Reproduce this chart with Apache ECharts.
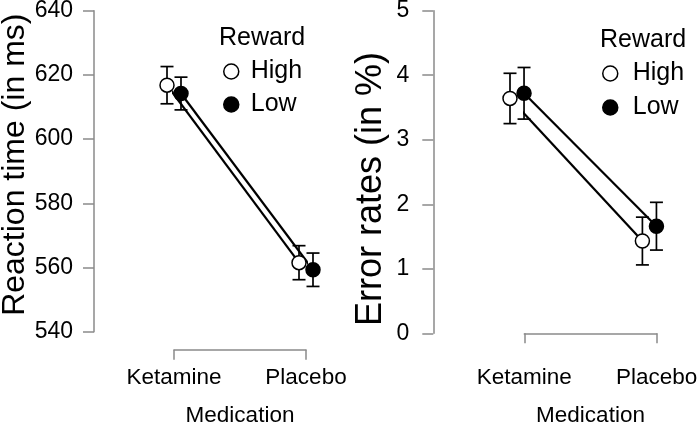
<!DOCTYPE html>
<html>
<head>
<meta charset="utf-8">
<script src="https://cdn.jsdelivr.net/npm/echarts@6/dist/echarts.min.js"></script>
<style>
html, body { margin: 0; padding: 0; background: #fff; }
#chart { width: 699px; height: 428px; }
</style>
</head>
<body>
<div id="chart"></div>
<script>
const medication = ['Ketamine', 'Placebo']
const rewardLevels = ['High', 'Low']

// reaction time in ms: means and error bar half-widths
const rtHigh = [616.8, 561.5]
const rtHighErr = [5.8, 5.3]
const rtLow = [614.2, 559.3]
const rtLowErr = [5.1, 5.2]

// error rates in %
const erHigh = [3.64, 1.43]
const erHighErr = [0.39, 0.37]
const erLow = [3.72, 1.66]
const erLowErr = [0.40, 0.37]

const rtRange = [540, 640, 20]
const erRange = [0, 5, 1]

const font = 'Liberation Sans, Arial, sans-serif'
const axisGray = '#8a8a8a'

function points (vals, shift) {
  return vals.map((v, i) => [i + 1 + shift, v])
}

function errorSeries (vals, errs, shift, idx) {
  return {
    type: 'custom',
    xAxisIndex: idx,
    yAxisIndex: idx,
    z: 1,
    silent: true,
    data: vals.map((v, i) => [i + 1 + shift, v - errs[i], v + errs[i]]),
    renderItem: function (params, api) {
      const lo = api.coord([api.value(0), api.value(1)])
      const hi = api.coord([api.value(0), api.value(2)])
      const x = lo[0]
      const w = 6.5
      const st = { stroke: '#000', lineWidth: 1.7 }
      return {
        type: 'group',
        children: [
          { type: 'line', shape: { x1: x, y1: lo[1], x2: x, y2: hi[1] }, style: st },
          { type: 'line', shape: { x1: x - w, y1: lo[1], x2: x + w, y2: lo[1] }, style: st },
          { type: 'line', shape: { x1: x - w, y1: hi[1], x2: x + w, y2: hi[1] }, style: st }
        ]
      }
    }
  }
}

function lineSeries (name, vals, shift, idx, fill) {
  return {
    type: 'line',
    name: name,
    xAxisIndex: idx,
    yAxisIndex: idx,
    z: 3,
    clip: false,
    silent: true,
    data: points(vals, shift),
    symbol: 'circle',
    symbolSize: 14,
    itemStyle: { color: fill, borderColor: '#000', borderWidth: 1.5 },
    lineStyle: { color: '#000', width: 2.2 },
    emphasis: { disabled: true }
  }
}

function xAxisFor (idx, offset) {
  return {
    type: 'value',
    gridIndex: idx,
    min: 1,
    max: 2,
    interval: 1,
    offset: offset,
    axisLine: { show: true, lineStyle: { color: axisGray, width: 1.5 } },
    axisTick: { show: true, length: 10, lineStyle: { color: axisGray, width: 1.5 } },
    axisLabel: {
      fontSize: 22.5, color: '#000', margin: 17, fontFamily: font,
      showMinLabel: true, showMaxLabel: true,
      formatter: v => medication[Math.round(v) - 1] || ''
    },
    splitLine: { show: false },
    name: 'Medication',
    nameLocation: 'middle',
    nameGap: 55,
    nameTextStyle: { fontSize: 22.5, color: '#000', fontFamily: font }
  }
}

function yAxisFor (idx, range, offset, name, nameSize, nameGap, namePad, labelMargin) {
  return {
    type: 'value',
    gridIndex: idx,
    min: range[0],
    max: range[1],
    interval: range[2],
    offset: offset,
    axisLine: { show: true, lineStyle: { color: axisGray, width: 1.5 } },
    axisTick: { show: true, length: 11, lineStyle: { color: axisGray, width: 1.5 } },
    axisLabel: { fontSize: 23, color: '#000', margin: labelMargin, fontFamily: font },
    splitLine: { show: false },
    name: name,
    nameLocation: 'middle',
    nameGap: nameGap,
    nameTextStyle: { fontSize: nameSize, color: '#000', fontFamily: font, padding: namePad }
  }
}

function legendFor (left, top, gap, textPad) {
  return {
    data: rewardLevels,
    left: left,
    top: top,
    padding: 0,
    orient: 'vertical',
    icon: 'circle',
    itemWidth: 15,
    itemHeight: 15,
    itemGap: gap,
    selectedMode: false,
    itemStyle: { borderColor: '#000', borderWidth: 1.5 },
    textStyle: { fontSize: 25, color: '#000', fontFamily: font, padding: [0, 0, 0, textPad] }
  }
}

function titleFor (left, top) {
  return {
    text: 'Reward',
    left: left,
    top: top,
    padding: 0,
    textStyle: { fontSize: 25, fontWeight: 'normal', color: '#000', fontFamily: font }
  }
}

const dodge = 0.053
const erShift = -0.055

const chart = echarts.init(document.getElementById('chart'))
chart.setOption({
  animation: false,
  backgroundColor: '#fff',
  title: [titleFor(219, 26), titleFor(600, 28)],
  legend: [legendFor(223, 59, 8, 7), legendFor(602, 61, 9, 10)],
  grid: [
    { left: 174, top: 10.7, width: 132, height: 321, containLabel: false, outerBoundsMode: 'none' },
    { left: 524.3, top: 10.7, width: 132.4, height: 322.6, containLabel: false, outerBoundsMode: 'none' }
  ],
  xAxis: [xAxisFor(0, 18), xAxisFor(1, 16)],
  yAxis: [
    yAxisFor(0, rtRange, 80, 'Reaction time (in ms)', 32, 62, [0, 0, 0, 13], 21),
    yAxisFor(1, erRange, 91, 'Error rates (in %)', 36, 44, [0, 34, 0, 0], 24)
  ],
  series: [
    errorSeries(rtHigh, rtHighErr, -dodge, 0),
    errorSeries(rtLow, rtLowErr, dodge, 0),
    lineSeries('High', rtHigh, -dodge, 0, '#fff'),
    lineSeries('Low', rtLow, dodge, 0, '#000'),
    errorSeries(erHigh, erHighErr, erShift - dodge, 1),
    errorSeries(erLow, erLowErr, erShift + dodge, 1),
    lineSeries('High', erHigh, erShift - dodge, 1, '#fff'),
    lineSeries('Low', erLow, erShift + dodge, 1, '#000')
  ]
})
</script>
</body>
</html>
